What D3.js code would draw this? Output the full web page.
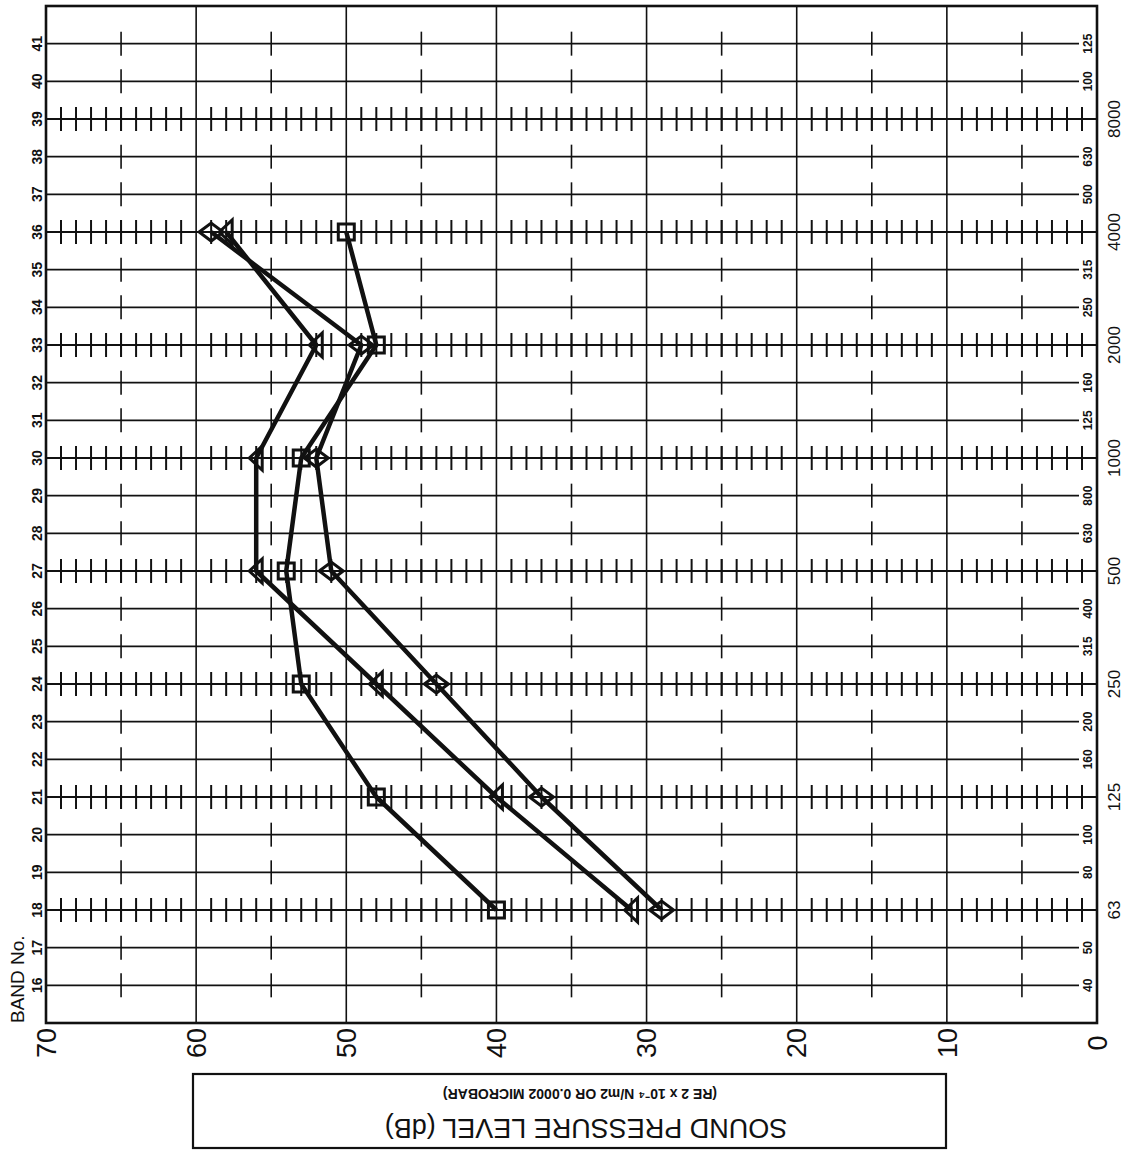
<!DOCTYPE html>
<html>
<head>
<meta charset="utf-8">
<script src="https://cdn.jsdelivr.net/npm/d3@7"></script>
<style>
  html, body { margin: 0; padding: 0; background: #fff; }
  svg { display: block; }
  text { font-family: "Liberation Sans", Arial, sans-serif; fill: #111; }
</style>
</head>
<body>
<svg id="chart" width="1125" height="1150"></svg>
<script>
// Octave bands (band number) where measurements were taken
const measuredBands = [18, 21, 24, 27, 30, 33, 36];
// Sound pressure levels (dB) for each of the three measurement series
const squareSeries   = [40, 48, 53, 54, 53, 48, 50];
const triangleSeries = [31, 40, 48, 56, 56, 52, 58];
const diamondSeries  = [29, 37, 44, 51, 52, 49, 59];

// Band numbers shown on the left edge
const bandNumbers = [16, 17, 18, 19, 20, 21, 22, 23, 24, 25, 26, 27, 28,
                     29, 30, 31, 32, 33, 34, 35, 36, 37, 38, 39, 40, 41];
// Octave bands and their centre frequencies (Hz)
const octaveBands  = [18, 21, 24, 27, 30, 33, 36, 39];
const octaveLabels = ["63", "125", "250", "500", "1000", "2000", "4000", "8000"];
// One-third octave bands and their abbreviated centre frequencies
const thirdBands  = [16, 17, 19, 20, 22, 23, 25, 26, 28, 29, 31, 32, 34, 35, 37, 38, 40, 41];
const thirdLabels = ["40", "50", "80", "100", "160", "200", "315", "400", "630", "800",
                     "125", "160", "250", "315", "500", "630", "100", "125"];
// Sound pressure level ticks
const splTicks = [70, 60, 50, 40, 30, 20, 10, 0];
const splHalfTicks = [65, 55, 45, 35, 25, 15, 5];
const splMinorTicks = [69, 68, 67, 66, 65, 64, 63, 62, 61, 59, 58, 57, 56, 55, 54, 53, 52, 51,
                       49, 48, 47, 46, 45, 44, 43, 42, 41, 39, 38, 37, 36, 35, 34, 33, 32, 31,
                       29, 28, 27, 26, 25, 24, 23, 22, 21, 19, 18, 17, 16, 15, 14, 13, 12, 11,
                       9, 8, 7, 6, 5, 4, 3, 2, 1];

const svg = d3.select("#chart");

const x = d3.scaleLinear().domain([70, 0]).range([46, 1097]);
const y = d3.scaleLinear().domain([15, 42]).range([1023, 6]);

const ink = "#111";
const g = svg.append("g");

// Vertical 10 dB grid lines
g.selectAll("line.vgrid").data(splTicks.slice(1, -1)).join("line")
  .attr("x1", d => x(d)).attr("x2", d => x(d))
  .attr("y1", y(42)).attr("y2", y(15))
  .attr("stroke", ink).attr("stroke-width", 1.6);

// Horizontal band lines
const thirdLineEnd = 1079;
g.selectAll("line.third").data(thirdBands).join("line")
  .attr("x1", x(70)).attr("x2", thirdLineEnd)
  .attr("y1", d => y(d)).attr("y2", d => y(d))
  .attr("stroke", ink).attr("stroke-width", 1.7);
g.selectAll("line.octave").data(octaveBands).join("line")
  .attr("x1", x(70)).attr("x2", x(0))
  .attr("y1", d => y(d)).attr("y2", d => y(d))
  .attr("stroke", ink).attr("stroke-width", 2);

// 5 dB marks on every band line
bandNumbers.forEach(b => {
  g.selectAll(null).data(splHalfTicks).join("line")
    .attr("x1", d => x(d)).attr("x2", d => x(d))
    .attr("y1", y(b) - 12).attr("y2", y(b) + 12)
    .attr("stroke", ink).attr("stroke-width", 1.6);
});

// 1 dB hatching on octave band lines
octaveBands.forEach(b => {
  g.selectAll(null).data(splMinorTicks).join("line")
    .attr("x1", d => x(d)).attr("x2", d => x(d))
    .attr("y1", y(b) - 12).attr("y2", y(b) + 12)
    .attr("stroke", ink).attr("stroke-width", 2);
});

// Plot frame
g.append("rect")
  .attr("x", x(70)).attr("y", y(42))
  .attr("width", x(0) - x(70)).attr("height", y(15) - y(42))
  .attr("fill", "none").attr("stroke", ink).attr("stroke-width", 2.6);

// Band number labels (rotated)
g.selectAll("text.band").data(bandNumbers).join("text")
  .attr("transform", d => `translate(37,${y(d)}) rotate(-90)`)
  .attr("text-anchor", "middle").attr("dy", "0.35em")
  .attr("font-size", 14).attr("font-weight", "bold")
  .text(d => d);

g.append("text")
  .attr("transform", `translate(17,${y(15)}) rotate(-90)`)
  .attr("text-anchor", "start").attr("dy", "0.35em")
  .attr("font-size", 19)
  .text("BAND No.");

// Third-octave frequency labels inside the frame
g.selectAll("text.third").data(thirdBands).join("text")
  .attr("transform", d => `translate(1088,${y(d)}) rotate(-90)`)
  .attr("text-anchor", "middle").attr("dy", "0.35em")
  .attr("font-size", 12).attr("font-weight", "bold")
  .text((d, i) => thirdLabels[i]);

// Octave frequency labels outside the frame
g.selectAll("text.octave").data(octaveBands).join("text")
  .attr("transform", d => `translate(1114,${y(d)}) rotate(-90)`)
  .attr("text-anchor", "middle").attr("dy", "0.35em")
  .attr("font-size", 17)
  .text((d, i) => octaveLabels[i]);

// SPL tick labels
g.selectAll("text.spl").data(splTicks).join("text")
  .attr("transform", d => `translate(${x(d)},1043) rotate(-90)`)
  .attr("text-anchor", "middle").attr("dy", "0.36em")
  .attr("font-size", 27)
  .text(d => d);

// Axis title box (printed upside down)
const box = { x0: 193, x1: 946, y0: 1074, y1: 1148 };
g.append("rect")
  .attr("x", box.x0).attr("y", box.y0)
  .attr("width", box.x1 - box.x0).attr("height", box.y1 - box.y0)
  .attr("fill", "none").attr("stroke", ink).attr("stroke-width", 2.2);
g.append("text")
  .attr("transform", `translate(586,1129) rotate(180)`)
  .attr("text-anchor", "middle").attr("dy", "0.36em")
  .attr("font-size", 27)
  .text("SOUND PRESSURE LEVEL (dB)");
g.append("text")
  .attr("transform", `translate(580,1094) rotate(180)`)
  .attr("text-anchor", "middle").attr("dy", "0.36em")
  .attr("font-size", 14).attr("font-weight", "bold")
  .text("(RE 2 x 10⁻⁴ N/m2 OR 0.0002 MICROBAR)");

// Data series
const line = d3.line().x(d => x(d.v)).y(d => y(d.b));
const seriesList = [
  { values: squareSeries, marker: "square" },
  { values: triangleSeries, marker: "triangle" },
  { values: diamondSeries, marker: "diamond" }
];
const markerPath = {
  square: "M-8,-8H8V8H-8Z",
  triangle: "M-7,0L6,-12V12Z",
  diamond: "M-12,0L0,-9L12,0L0,9Z"
};

seriesList.forEach(s => {
  const pts = measuredBands.map((b, i) => ({ b, v: s.values[i] }));
  g.append("path").datum(pts)
    .attr("d", line)
    .attr("fill", "none").attr("stroke", ink)
    .attr("stroke-width", 4.5).attr("stroke-linejoin", "round");
  g.selectAll(null).data(pts).join("path")
    .attr("transform", d => `translate(${x(d.v)},${y(d.b)})`)
    .attr("d", markerPath[s.marker])
    .attr("fill", "none").attr("stroke", ink).attr("stroke-width", 3);
});
</script>
</body>
</html>
